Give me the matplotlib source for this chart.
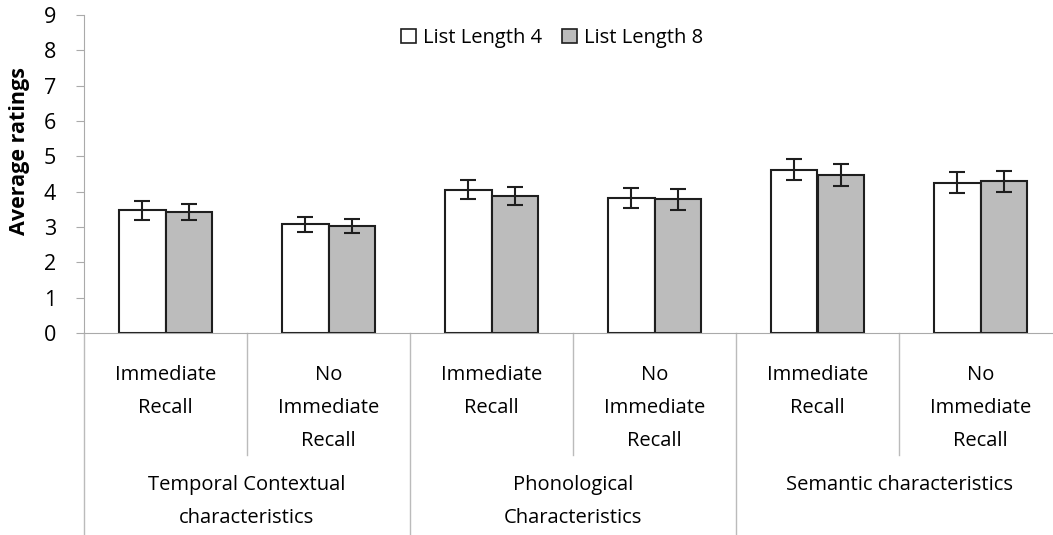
import numpy as np
import matplotlib.pyplot as plt
from matplotlib.patches import Patch
from matplotlib.lines import Line2D

plt.rcParams['font.family'] = ['Open Sans', 'DejaVu Sans']

# Data
conditions = ["Immediate\nRecall", "No\nImmediate\nRecall"] * 3
groups = ["Temporal Contextual\ncharacteristics", "Phonological\nCharacteristics", "Semantic characteristics"]
len4_mean = [3.48, 3.08, 4.06, 3.82, 4.62, 4.25]
len4_err = [0.27, 0.21, 0.28, 0.28, 0.30, 0.30]
len8_mean = [3.42, 3.03, 3.87, 3.78, 4.48, 4.29]
len8_err = [0.22, 0.19, 0.26, 0.29, 0.31, 0.30]
series_names = ["List Length 4", "List Length 8"]

W, H = 1053, 535
fig = plt.figure(figsize=(W / 100, H / 100), dpi=100)
left, right, top, bottom = 84, 1062, 15, 333
ax = fig.add_axes([left / W, 1 - bottom / H, (right - left) / W, (bottom - top) / H])

x = np.arange(len(conditions))
bw = 0.288
edge = '#1e1e1e'
grey_fill = '#bcbcbc'
ax.bar(x - bw / 2, len4_mean, bw, color='white', edgecolor=edge, linewidth=1.5, zorder=2)
ax.bar(x + bw / 2, len8_mean, bw, color=grey_fill, edgecolor=edge, linewidth=1.5, zorder=2)
ax.errorbar(x - bw / 2, len4_mean, yerr=len4_err, fmt='none', ecolor=edge,
            elinewidth=1.5, capsize=6, capthick=1.5, zorder=3)
ax.errorbar(x + bw / 2, len8_mean, yerr=len8_err, fmt='none', ecolor=edge,
            elinewidth=1.5, capsize=6, capthick=1.5, zorder=3)

ax.set_xlim(-0.5, 5.5)
ax.set_ylim(0, 9)
ax.set_yticks(range(10))
ax.tick_params(axis='y', labelsize=15.5, length=6, color='#aaaaaa', pad=14)
ax.set_xticks([])
for s in ['top', 'right']:
    ax.spines[s].set_visible(False)
ax.spines['left'].set_color('#aaaaaa')
ax.spines['bottom'].set_color('#aaaaaa')
ax.set_ylabel("Average ratings", fontsize=15.5, fontweight='bold')
ax.yaxis.set_label_coords((30 - left) / (right - left), (bottom - 151) / (bottom - top))

# multi-level category axis
trans = ax.get_xaxis_transform()
line_col = '#bbbbbb'
def fig_y(py):
    # pixel row in the figure -> axes y fraction
    return (bottom - py) / (bottom - top)

for i, xs in enumerate(np.arange(-0.5, 5.5, 1.0)):
    y_end = fig_y(535) if i % 2 == 0 else fig_y(455)
    ax.add_line(Line2D([xs, xs], [0, y_end], transform=trans, color=line_col,
                       linewidth=1, clip_on=False))

line_gap = 33
for xi, lab in zip(x, conditions):
    for k, part in enumerate(lab.split("\n")):
        ax.text(xi, fig_y(380 + k * line_gap), part, transform=trans, ha='center',
                va='baseline', fontsize=14.5)
for gi, lab in enumerate(groups):
    for k, part in enumerate(lab.split("\n")):
        ax.text(2 * gi + 0.5, fig_y(490 + k * line_gap), part, transform=trans,
                ha='center', va='baseline', fontsize=14.5)

handles = [Patch(facecolor='white', edgecolor=edge, linewidth=1.2),
           Patch(facecolor=grey_fill, edgecolor=edge, linewidth=1.2)]
fig.legend(handles, series_names, loc='center', bbox_to_anchor=(552 / W, 1 - 38 / H),
           ncol=2, frameon=False, fontsize=14.5, handlelength=0.75, handleheight=0.75,
           handletextpad=0.35, columnspacing=1.0)

fig.savefig("out.png", dpi=100)
